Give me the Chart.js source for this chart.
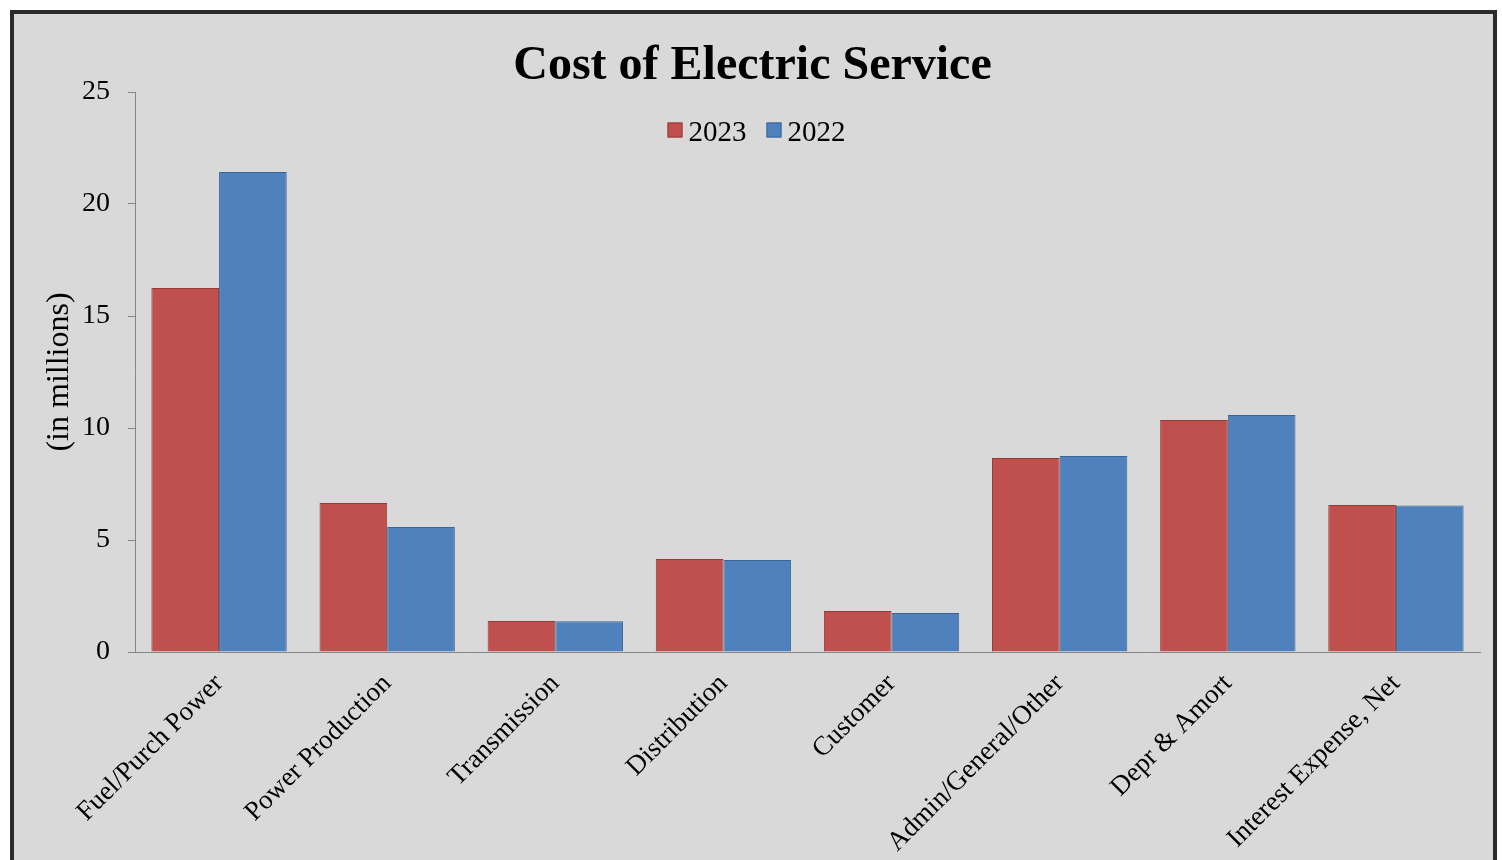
<!DOCTYPE html>
<html>
<head>
<meta charset="utf-8">
<script src="https://cdn.jsdelivr.net/npm/chart.js@4.4.0/dist/chart.umd.min.js"></script>
<style>
  body { margin: 0; background: #fff; overflow: hidden; }
  #frame {
    position: absolute; left: 10px; top: 10px;
    width: 1479px; height: 900px;
    border: 4px solid #2b2b2b; border-bottom: none;
    background: #d9d9d9;
  }
  #frame canvas { display: block; }
</style>
</head>
<body>
<div id="frame"><canvas id="costChart" width="1479" height="846"></canvas></div>
<script>
const categories = ["Fuel/Purch Power", "Power Production", "Transmission", "Distribution",
  "Customer", "Admin/General/Other", "Depr & Amort", "Interest Expense, Net"];
const values2023 = [16.25, 6.65, 1.38, 4.15, 1.83, 8.66, 10.36, 6.56];
const values2022 = [21.43, 5.58, 1.37, 4.11, 1.74, 8.75, 10.58, 6.54];
const yTicks = [0, 5, 10, 15, 20, 25];

const serif = '"Liberation Serif", "Times New Roman", serif';

// title + legend drawn over the plot, like the spreadsheet chart
const headerPlugin = {
  id: 'header',
  afterDraw(chart) {
    const c = chart.ctx;
    const w = chart.width;
    c.save();
    c.fillStyle = '#000';
    c.textAlign = 'center';
    c.textBaseline = 'alphabetic';
    c.font = 'bold 48px ' + serif;
    c.fillText('Cost of Electric Service', w / 2 - 1, 65);

    c.font = '29px ' + serif;
    c.textAlign = 'left';
    const items = chart.data.datasets;
    const box = 15, gap = 6, space = 20;
    let total = 0;
    items.forEach(d => { total += box + gap + c.measureText(d.label).width; });
    total += space * (items.length - 1);
    let x = w / 2 - total / 2 + 3;
    const y = 117;
    items.forEach(d => {
      c.fillStyle = d.backgroundColor;
      c.fillRect(x, y - box / 2 - 1, box, box);
      c.strokeStyle = d.borderColor;
      c.lineWidth = 1;
      c.strokeRect(x + 0.5, y - box / 2 - 0.5, box - 1, box - 1);
      x += box + gap;
      c.fillStyle = '#000';
      c.fillText(d.label, x, y + 10);
      x += c.measureText(d.label).width + space;
    });
    c.restore();
  }
};

new Chart(document.getElementById('costChart'), {
  type: 'bar',
  data: {
    labels: categories,
    datasets: [{
      label: '2023',
      data: values2023,
      backgroundColor: '#C0504D',
      borderColor: '#953A37',
      borderWidth: 1,
      barPercentage: 1,
      categoryPercentage: 0.805
    }, {
      label: '2022',
      data: values2022,
      backgroundColor: '#4F81BD',
      borderColor: '#3A6596',
      borderWidth: 1,
      barPercentage: 1,
      categoryPercentage: 0.805
    }]
  },
  options: {
    responsive: false,
    devicePixelRatio: 1,
    animation: false,
    layout: { padding: { top: 78, right: 13, bottom: 0, left: 0 } },
    plugins: {
      legend: { display: false },
      title: { display: false },
      tooltip: { enabled: false }
    },
    scales: {
      y: {
        min: 0,
        max: 25,
        afterBuildTicks(scale) { scale.ticks = yTicks.map(v => ({ value: v })); },
        afterFit(scale) { scale.width = 121; },
        border: { display: true, color: '#868686', width: 1 },
        grid: { drawOnChartArea: false, drawTicks: true, tickLength: 7, color: '#868686' },
        ticks: { color: '#000', padding: 18, font: { family: serif, size: 28 } },
        title: {
          display: true,
          text: '(in millions)',
          color: '#000',
          padding: { top: 26, bottom: 0 },
          font: { family: serif, size: 32 }
        }
      },
      x: {
        afterFit(scale) { scale.height = 208; },
        border: { display: true, color: '#868686', width: 1 },
        grid: { display: false, drawTicks: false },
        ticks: {
          color: '#000',
          maxRotation: 45,
          minRotation: 45,
          padding: 16,
          autoSkip: false,
          font: { family: serif, size: 27 }
        }
      }
    }
  },
  plugins: [headerPlugin]
});
</script>
</body>
</html>
